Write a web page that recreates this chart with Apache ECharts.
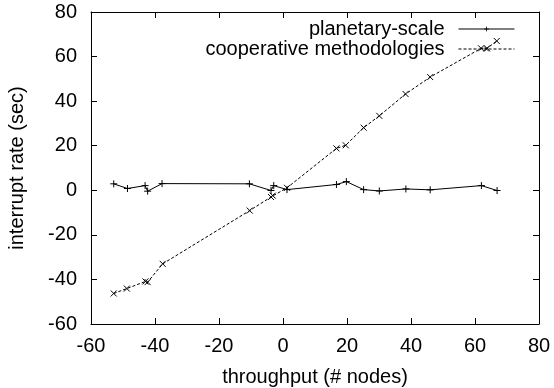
<!DOCTYPE html>
<html>
<head>
<meta charset="utf-8">
<script src="https://cdn.jsdelivr.net/npm/echarts@6/dist/echarts.min.js"></script>
<style>
  html, body { margin: 0; padding: 0; background: #fff; }
  #chart { width: 554px; height: 388px; }
</style>
</head>
<body>
<div id="chart"></div>
<script>
// planetary-scale
const planetaryX = [-52.9, -48.6, -43.1, -42.3, -37.8, -10.5, -3.75, -2.9, 1.25, 16.7, 19.8, 25.2, 30.1, 38.4, 46, 62, 66.9]
const planetaryY = [2.9, 0.8, 2.1, -0.4, 3.0, 2.9, -0.1, 2.1, 0.3, 2.6, 3.9, 0.3, -0.3, 0.6, 0.2, 2.1, -0.1]
// cooperative methodologies
const coopX = [-52.9, -48.8, -43, -42.3, -37.6, -10.4, -3.75, -3.2, 1.25, 16.7, 19.6, 25.2, 30.1, 38.3, 46, 61.9, 63.75, 66.8]
const coopY = [-46.3, -44.1, -40.9, -41.2, -33, -9.1, -3.0, -2.4, 1.1, 18.8, 20.2, 28.1, 33.4, 43.2, 50.8, 63.7, 63.7, 67]

const seriesNames = ['planetary-scale', 'cooperative methodologies']
const xTitle = 'throughput (# nodes)'
const yTitle = 'interrupt rate (sec)'

const font = 'Liberation Sans, Arial, Helvetica, sans-serif'
const fs = 20

const zip = (xs, ys) => xs.map((x, i) => [x, ys[i]])

const chart = echarts.init(document.getElementById('chart'))

const baseAxis = {
  type: 'value',
  min: -60,
  max: 80,
  interval: 20,
  splitLine: {show: false},
  axisLine: {show: true, onZero: false, lineStyle: {color: '#000', width: 1}},
  axisTick: {show: true, inside: true, length: 6, lineStyle: {color: '#000'}},
}

let option = {
  animation: false,
  grid: {left: 91, right: 15, top: 12, bottom: 64, containLabel: false, outerBoundsMode: 'none'},
  legend: {
    orient: 'vertical',
    right: 39,
    top: 19,
    padding: 0,
    align: 'right',
    itemWidth: 56,
    itemHeight: 6,
    itemGap: 0,
    lineStyle: {width: 1},
    itemStyle: {borderWidth: 0.8},
    textStyle: {fontFamily: font, fontSize: fs, lineHeight: 19, color: '#000', padding: [0, 9, 0, 0]},
    data: seriesNames
  },
  xAxis: [
    Object.assign({}, baseAxis, {
      position: 'bottom',
      name: xTitle,
      nameLocation: 'middle',
      nameGap: 43,
      nameTextStyle: {fontFamily: font, fontSize: fs, color: '#000'},
      axisLabel: {fontFamily: font, fontSize: fs, color: '#000', margin: 12}
    }),
    Object.assign({}, baseAxis, {position: 'top', axisLabel: {show: false}})
  ],
  yAxis: [
    Object.assign({}, baseAxis, {
      position: 'left',
      name: yTitle,
      nameLocation: 'middle',
      nameGap: 64,
      nameTextStyle: {fontFamily: font, fontSize: fs, color: '#000'},
      axisLabel: {fontFamily: font, fontSize: fs, color: '#000', margin: 14}
    }),
    Object.assign({}, baseAxis, {position: 'right', axisLabel: {show: false}})
  ],
  series: [
    {
      name: seriesNames[0],
      type: 'line',
      data: zip(planetaryX, planetaryY),
      symbol: 'path://M0,5L10,5M5,0L5,10',
      symbolSize: 7,
      showAllSymbol: true,
      lineStyle: {color: '#000', width: 1},
      itemStyle: {color: '#000', borderColor: '#000', borderWidth: 1}
    },
    {
      name: seriesNames[1],
      type: 'line',
      data: zip(coopX, coopY),
      symbol: 'path://M0,0L10,10M10,0L0,10',
      symbolSize: 6,
      showAllSymbol: true,
      lineStyle: {color: '#000', width: 1, type: [3, 2]},
      itemStyle: {color: '#000', borderColor: '#000', borderWidth: 1}
    }
  ]
}
chart.setOption(option)
</script>
</body>
</html>
